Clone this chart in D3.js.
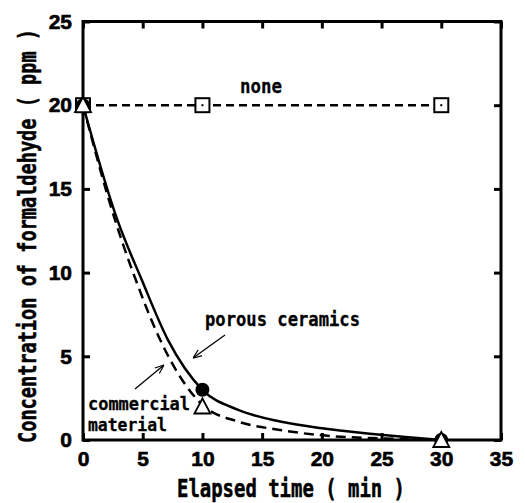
<!DOCTYPE html>
<html>
<head>
<meta charset="utf-8">
<script src="https://cdn.jsdelivr.net/npm/d3@7"></script>
<style>
  body { margin: 0; background: #fff; }
  svg { display: block; }
</style>
</head>
<body>
<svg width="525" height="503"></svg>
<script>
// measured points
const times = [0, 10, 30];
const noneVals = [20, 20, 20];
const porousVals = [20, 3, 0];
const commercialVals = [20, 2, 0];

// fitted curves
const porousCurveT = [0, 2.9, 4.9, 7.1, 10, 13, 16.5, 20, 24, 27, 30];
const porousCurveV = [20, 13.1, 9.6, 6.0, 3.0, 1.8, 1.1, 0.7, 0.38, 0.18, 0];
const commercialCurveT = [0, 2.7, 4.4, 6.45, 10, 13, 16.5, 20, 24, 27, 30];
const commercialCurveV = [20, 13.1, 9.6, 6.0, 2.1, 1.1, 0.6, 0.28, 0.12, 0.05, 0];

const xTicks = [0, 5, 10, 15, 20, 25, 30, 35];
const yTicks = [0, 5, 10, 15, 20, 25];

const svg = d3.select('svg');
const x = d3.scaleLinear().domain([0, 35]).range([83, 501]);
const y = d3.scaleLinear().domain([0, 25]).range([440, 21.5]);

const mono = '"DejaVu Sans Mono", monospace';
const sans = '"Liberation Sans", Arial, sans-serif';

// axes, ticks pointing inward
let axB = svg.append('g').attr('transform', `translate(0,${y(0)})`)
    .call(d3.axisBottom(x).tickValues(xTicks).tickSizeInner(-7).tickSizeOuter(0).tickPadding(11));
let axT = svg.append('g').attr('transform', `translate(0,${y(25)})`)
    .call(d3.axisTop(x).tickValues(xTicks).tickSizeInner(-7).tickSizeOuter(0).tickFormat(''));
let axL = svg.append('g').attr('transform', `translate(${x(0)},0)`)
    .call(d3.axisLeft(y).tickValues(yTicks).tickSizeInner(-7).tickSizeOuter(0).tickPadding(11));
let axR = svg.append('g').attr('transform', `translate(${x(35)},0)`)
    .call(d3.axisRight(y).tickValues(yTicks).tickSizeInner(-7).tickSizeOuter(0).tickFormat(''));

[axB, axT, axL, axR].forEach(g=>{
    g.selectAll('.domain').remove();
    g.selectAll('line').attr('stroke', '#000').attr('stroke-width', 3);
    g.selectAll('text').attr('font-family', sans).attr('font-weight', 'bold')
        .attr('font-size', 21).attr('fill', '#000')
        .attr('stroke', '#000').attr('stroke-width', 0.6);
});

svg.append('rect')
    .attr('x', x(0)).attr('y', y(25))
    .attr('width', x(35) - x(0)).attr('height', y(0) - y(25))
    .attr('fill', 'none').attr('stroke', '#000').attr('stroke-width', 3);

// axis titles
svg.append('text')
    .attr('x', 177).attr('y', 497)
    .attr('textLength', 228).attr('lengthAdjust', 'spacingAndGlyphs')
    .attr('font-family', mono).attr('font-weight', 'bold').attr('font-size', 24)
    .attr('stroke', '#000').attr('stroke-width', 0.5)
    .text('Elapsed time ( min )');

svg.append('text')
    .attr('transform', 'translate(36,443) rotate(-90)')
    .attr('textLength', 414).attr('lengthAdjust', 'spacingAndGlyphs')
    .attr('font-family', mono).attr('font-weight', 'bold').attr('font-size', 24)
    .attr('stroke', '#000').attr('stroke-width', 0.5)
    .text('Concentration of formaldehyde ( ppm )');

// lines
const line = d3.line().x(d=>x(d[0])).y(d=>y(d[1]));
const smooth = d3.line().x(d=>x(d[0])).y(d=>y(d[1])).curve(d3.curveMonotoneX);

svg.append('path')
    .attr('d', line(d3.zip(times, noneVals)))
    .attr('fill', 'none').attr('stroke', '#000').attr('stroke-width', 2.5)
    .attr('stroke-dasharray', '8,5');

svg.append('path')
    .attr('d', smooth(d3.zip(commercialCurveT, commercialCurveV)))
    .attr('fill', 'none').attr('stroke', '#000').attr('stroke-width', 2.5)
    .attr('stroke-dasharray', '10,6');

svg.append('path')
    .attr('d', smooth(d3.zip(porousCurveT, porousCurveV)))
    .attr('fill', 'none').attr('stroke', '#000').attr('stroke-width', 2.5);

// markers
let sq = svg.selectAll('.sq').data(d3.zip(times, noneVals)).enter().append('g')
    .attr('transform', d=>`translate(${x(d[0])},${y(d[1])})`);
sq.append('rect').attr('x', -7).attr('y', -7).attr('width', 14).attr('height', 14)
    .attr('fill', '#fff').attr('stroke', '#000').attr('stroke-width', 2);
sq.append('rect').attr('x', -1).attr('y', -1).attr('width', 2).attr('height', 2).attr('fill', '#000');

svg.selectAll('.dot').data(d3.zip(times, porousVals)).enter().append('circle')
    .attr('cx', d=>x(d[0])).attr('cy', d=>y(d[1])).attr('r', 7).attr('fill', '#000');

svg.selectAll('.tri').data(d3.zip(times, commercialVals)).enter().append('path')
    .attr('d', 'M0,-8L8,7L-8,7Z')
    .attr('transform', d=>`translate(${x(d[0])},${y(d[1])})`)
    .attr('fill', '#fff').attr('stroke', '#000').attr('stroke-width', 1.8);

// annotations
svg.append('defs').append('marker')
    .attr('id', 'arr').attr('viewBox', '0 0 10 10').attr('refX', 10).attr('refY', 5)
    .attr('markerWidth', 9).attr('markerHeight', 9).attr('orient', 'auto')
    .attr('markerUnits', 'userSpaceOnUse')
    .append('path').attr('d', 'M0,1L10,5L0,9').attr('fill', 'none').attr('stroke', '#000').attr('stroke-width', 1.3);

const labels = [
    {t: 'none', x: 240, y: 93, w: 42, s: 20},
    {t: 'porous ceramics', x: 205, y: 326, w: 155, s: 20},
    {t: 'commercial', x: 88, y: 410, w: 102, s: 18},
    {t: 'material', x: 88, y: 431, w: 79, s: 18}
];
svg.selectAll('.lbl').data(labels).enter().append('text')
    .attr('x', d=>d.x).attr('y', d=>d.y)
    .attr('textLength', d=>d.w).attr('lengthAdjust', 'spacingAndGlyphs')
    .attr('font-family', mono).attr('font-weight', 'bold').attr('font-size', d=>d.s)
    .attr('stroke', '#000').attr('stroke-width', 0.3)
    .text(d=>d.t);

const arrows = [[225, 335, 193, 358], [135, 389, 164, 365]];
svg.selectAll('.arrow').data(arrows).enter().append('line')
    .attr('x1', d=>d[0]).attr('y1', d=>d[1]).attr('x2', d=>d[2]).attr('y2', d=>d[3])
    .attr('stroke', '#000').attr('stroke-width', 1.3).attr('marker-end', 'url(#arr)');
</script>
</body>
</html>
